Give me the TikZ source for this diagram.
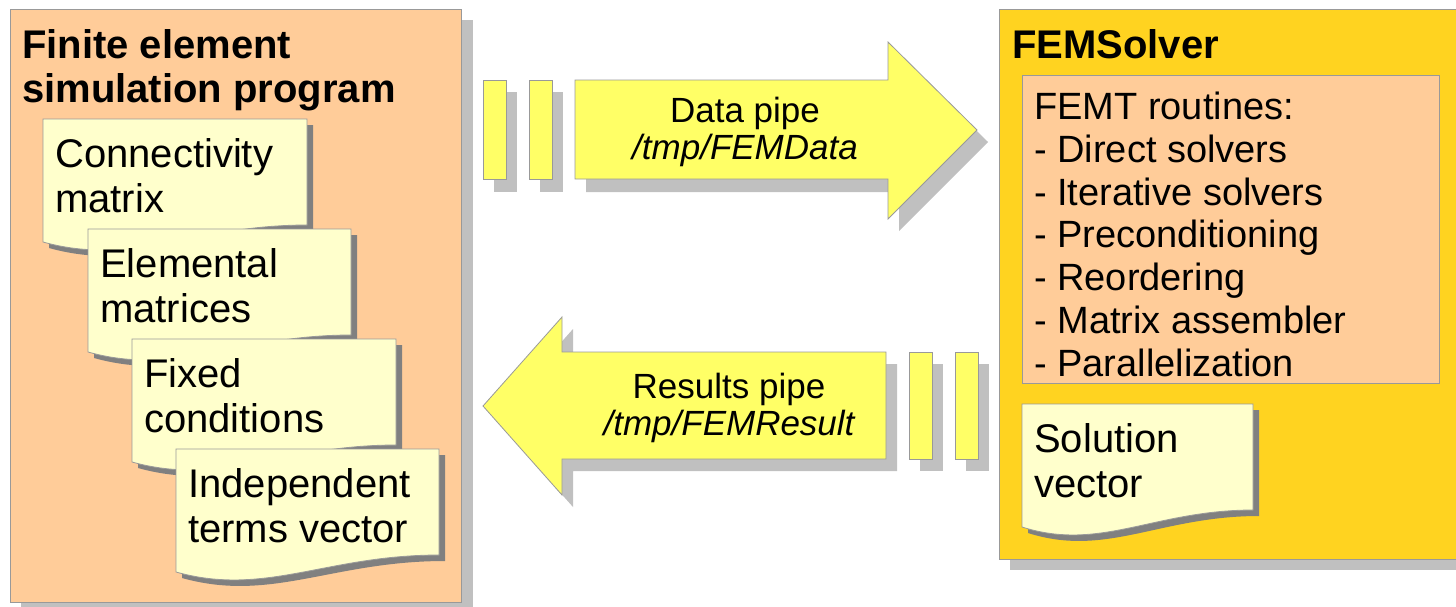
\documentclass[tikz,border=0pt]{standalone}
\usepackage{fontspec}
\setmainfont{Liberation Sans}
\definecolor{peach}{HTML}{FFCC99}
\definecolor{gold}{HTML}{FFD320}
\definecolor{notey}{HTML}{FFFFCC}
\definecolor{pipey}{HTML}{FFFF66}
\definecolor{boxline}{HTML}{999999}
\definecolor{shadowlight}{HTML}{C0C0C0}
\definecolor{shadowdark}{HTML}{808080}
% multi-line nodes: anchor "base" is the baseline of the LAST line
\newcommand\docnote[5]{%
  \fill[noteshadow] ({#1+6},{#2+6}) -- ({#1+#3+6},{#2+6}) -- ({#1+#3+6},{#2+112})
    .. controls ({#1+0.57*#3+6},{#2+112}) and ({#1+0.34*#3+6},{#2+154}) .. ({#1+6},{#2+129}) -- cycle;
  \draw[notebox] (#1,#2) -- ({#1+#3},#2) -- ({#1+#3},{#2+106})
    .. controls ({#1+0.57*#3},{#2+106}) and ({#1+0.34*#3},{#2+148}) .. (#1,{#2+123}) -- cycle;
  \node[notetext] (#4) at ({#1+12},{#2+93}) {#5};
}
\begin{document}
\begin{tikzpicture}[x=1pt,y=-1pt,
  bigbox/.style={draw=boxline, line width=1pt},
  bigshadow/.style={fill=shadowlight},
  noteshadow/.style={fill=shadowdark},
  notebox/.style={fill=notey, draw=boxline, line width=0.8pt},
  notetext/.style={anchor=base west, align=left, inner sep=0pt, font=\fontsize{40}{45}\selectfont},
  titletext/.style={anchor=base west, align=left, inner sep=0pt, font=\bfseries\fontsize{40}{44}\selectfont},
  pipebox/.style={fill=pipey, draw=boxline, line width=0.8pt},
  pipetext/.style={anchor=base, align=center, inner sep=0pt, font=\fontsize{35}{37}\selectfont},
  listtext/.style={anchor=base west, align=left, inner sep=0pt, font=\fontsize{38}{42.7}\selectfont}
]
\useasboundingbox (0,0) rectangle (1456,606);
\clip (0,0) rectangle (1456,606);
\fill[white] (0,0) rectangle (1456,606);

% ---------- left program box ----------
\fill[bigshadow] (21,20) rectangle (473,613);
\draw[bigbox, fill=peach] (10,9) rectangle (461.5,602);
\node[titletext] (prog) at (22,102) {Finite element\\simulation program};

\docnote{43}{119}{264}{conn}{Connectivity\\matrix}
\docnote{88}{229}{263}{elem}{Elemental\\matrices}
\docnote{132}{339}{264}{fixed}{Fixed\\conditions}
\docnote{176}{449}{263}{indep}{Independent\\terms vector}

% ---------- right solver box ----------
\fill[bigshadow] (1010,20) rectangle (1480,570);
\draw[bigbox, fill=gold] (999,9) rectangle (1470,559);
\node[titletext] (solver) at (1012,58) {FEMSolver};
\draw[bigbox, fill=peach] (1022,75) rectangle (1439,383);
\node[listtext] (femt) at (1034,376) {FEMT routines:\\- Direct solvers\\- Iterative solvers\\- Preconditioning\\- Reordering\\- Matrix assembler\\- Parallelization};
\docnote{1022}{404}{231}{sol}{Solution\\vector}

% ---------- data pipe ----------
\fill[bigshadow] (494,92) rectangle (517,192);
\fill[bigshadow] (540,92) rectangle (563,192);
\fill[bigshadow] (586,92) -- (899,92) -- (899,54) -- (988,142) -- (899,231) -- (899,192) -- (586,192) -- cycle;
\draw[pipebox] (483,80) rectangle (506,179);
\draw[pipebox] (529,80) rectangle (552,179);
\draw[pipebox] (575,80) -- (888,80) -- (888,42) -- (977,130) -- (888,219) -- (888,179) -- (575,179) -- cycle;
\node[pipetext] (datapipe) at (745,159) {Data pipe\\\itshape /tmp/FEMData};

% ---------- results pipe ----------
\fill[bigshadow] (920,364) rectangle (943,471);
\fill[bigshadow] (966,364) rectangle (989,471);
\fill[bigshadow] (897,364) -- (573,364) -- (573,329) -- (494,418) -- (573,507) -- (573,471) -- (897,471) -- cycle;
\draw[pipebox] (909,352) rectangle (932,459);
\draw[pipebox] (955,352) rectangle (978,459);
\draw[pipebox] (886,352) -- (562,352) -- (562,317) -- (483,406) -- (562,495) -- (562,459) -- (886,459) -- cycle;
\node[pipetext] (resultpipe) at (729,435) {Results pipe\\\itshape /tmp/FEMResult};
\end{tikzpicture}
\end{document}
